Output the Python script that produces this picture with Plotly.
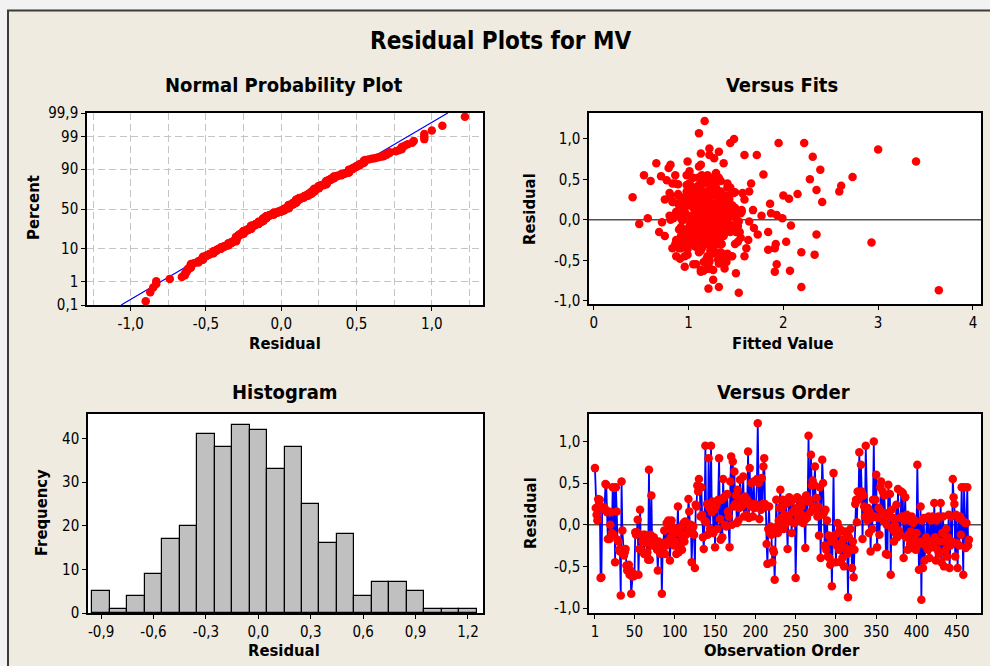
import plotly.graph_objects as go
from statistics import NormalDist, mean, stdev

W, H = 990, 666
FONT = "DejaVu Sans Condensed, DejaVu Sans, sans-serif"

# ---------------- data ----------------
residuals = [
    0.68, 0.20, 0.12, 0.05, 0.31, 0.28, 0.30, -0.64, -0.63, 0.21, 0.19, 0.20, 0.20, 0.49, 0.48, 0.15, -0.17, 0.16, -0.17, 0.00,
    0.15, -0.10, 0.45, -0.12, 0.44, -0.45, 0.45, 0.16, -0.18, -0.20, -0.30, -0.32, -0.85, 0.52, -0.07, -0.30, -0.37, -0.33, -0.29, -0.49,
    -0.55, -0.52, -0.48, -0.60, -0.55, -0.83, -0.62, -0.58, -0.62, -0.60, -0.09, -0.12, -0.09, 0.06, -0.60, -0.29, 0.18, -0.30, -0.13, -0.20,
    -0.12, -0.35, -0.12, -0.15, -0.22, -0.33, -0.42, 0.66, -0.42, -0.12, 0.35, -0.25, -0.17, -0.15, -0.22, -0.20, -0.25, -0.30, -0.55, -0.20,
    -0.25, -0.35, -0.28, -0.83, -0.30, -0.22, -0.07, -0.35, -0.25, 0.02, -0.20, 0.05, -0.05, -0.43, -0.15, 0.05, -0.22, -0.03, -0.25, -0.10,
    -0.20, -0.35, -0.05, 0.22, -0.33, -0.10, -0.25, -0.02, -0.30, -0.15, 0.02, -0.20, 0.04, -0.12, 0.02, -0.08, 0.31, 0.16, -0.05, 0.00,
    -0.45, -0.10, -0.02, -0.12, -0.52, 0.24, 0.22, 0.47, 0.40, 0.55, 0.45, 0.10, 0.45, 0.12, -0.15, -0.29, 0.05, 0.95, 0.03, 0.25,
    -0.12, 0.80, 0.20, -0.05, 0.95, 0.15, 0.28, -0.10, 0.18, -0.27, 0.22, 0.25, -0.05, 0.30, 0.80, 0.07, -0.18, 0.30, -0.15, 0.55,
    0.33, 0.00, 0.35, -0.02, 0.37, 0.16, 0.10, -0.27, 0.52, 0.82, 0.00, 0.76, 0.22, 0.64, 0.25, 0.35, 0.02, 0.42, 0.05, 0.20,
    0.54, 0.28, 0.22, 0.32, 0.58, 0.10, 0.34, 0.25, 0.12, 0.30, 0.88, 0.08, 0.68, 0.22, 0.50, 0.25, 0.10, 0.52, 0.20, 0.25,
    0.22, 0.55, 1.22, 0.50, 0.07, 0.55, 0.18, 0.56, 0.25, 0.70, 0.80, 0.25, 0.22, -0.23, -0.47, -0.05, 0.22, -0.10, -0.02, -0.12,
    -0.45, -0.30, -0.33, -0.66, -0.08, 0.30, -0.02, -0.10, 0.05, 0.20, 0.42, 0.08, 0.20, 0.30, -0.05, 0.12, 0.00, 0.25, 0.05, -0.29,
    0.10, 0.33, 0.05, 0.28, -0.10, 0.15, 0.30, 0.02, 0.18, -0.64, 0.20, 0.33, 0.10, 0.18, 0.30, 0.05, 0.22, 0.12, 0.02, 0.30,
    0.05, -0.28, 0.35, 0.08, 0.28, 1.07, 0.30, 0.15, 0.84, 0.47, 0.53, 0.22, 0.48, 0.70, 0.18, 0.32, 0.10, 0.22, -0.13, 0.45,
    -0.40, 0.12, 0.78, 0.50, 0.14, -0.25, 0.18, -0.30, 0.05, -0.38, -0.13, -0.40, -0.48, -0.20, -0.74, -0.15, 0.62, -0.20, -0.12, -0.45,
    -0.25, 0.02, -0.10, -0.30, -0.05, -0.45, -0.22, -0.40, -0.18, -0.50, -0.08, -0.28, -0.12, -0.35, -0.87, -0.15, -0.30, -0.05, -0.30, -0.52,
    -0.20, -0.63, -0.30, 0.25, 0.30, 0.03, 0.40, 0.30, 0.87, 0.35, 0.72, 0.40, -0.17, 0.35, 0.22, 0.10, 0.95, 0.18, 0.05, 0.20,
    -0.10, 0.15, -0.32, 0.08, -0.05, 0.30, 1.00, 0.10, 0.30, 0.60, -0.27, 0.08, 0.20, -0.12, 0.45, 0.52, 0.15, 0.40, 0.05, 0.35,
    0.14, -0.35, 0.00, -0.36, 0.48, 0.10, 0.37, -0.60, 0.18, -0.05, 0.08, -0.20, 0.00, -0.10, 0.24, -0.15, 0.43, -0.07, 0.08, -0.12,
    0.40, 0.10, 0.38, -0.40, 0.05, 0.33, -0.15, 0.12, -0.30, -0.12, 0.05, -0.23, -0.08, 0.10, -0.28, 0.02, -0.18, 0.05, -0.30, -0.10,
    0.72, -0.24, -0.54, -0.20, 0.22, -0.90, 0.05, -0.52, 0.08, -0.43, -0.25, -0.15, 0.08, -0.30, 0.10, -0.40, -0.20, 0.05, -0.27, 0.10,
    -0.25, 0.26, -0.15, -0.43, 0.05, -0.30, 0.10, -0.35, -0.20, 0.26, -0.45, -0.10, 0.10, -0.50, -0.20, -0.30, -0.05, -0.38, -0.15, 0.12,
    -0.52, -0.25, 0.10, -0.20, 0.55, 0.33, 0.25, -0.38, 0.12, -0.22, -0.52, 0.08, -0.25, 0.10, -0.12, 0.45, 0.05, -0.60, 0.45, 0.02,
    -0.28, 0.02, 0.45, -0.25, -0.18,
]

fitted_values = [
    0.81, 0.99, 1.19, 0.84, 1.29, 1.10, 1.40, 1.91, 2.07, 1.04, 1.25, 1.14, 1.86, 0.77, 1.34, 0.95, 1.07, 1.44, 1.20, 0.81,
    1.28, 1.69, 1.01, 1.37, 0.89, 1.59, 1.16, 1.23, 2.35, 0.75, 1.92, 1.08, 1.21, 1.32, 2.08, 0.98, 1.84, 1.11, 0.87, 1.31,
    1.93, 1.17, 0.91, 1.22, 1.05, 2.19, 1.13, 0.96, 1.26, 1.38, 0.92, 1.14, 1.49, 1.93, 1.20, 1.02, 1.35, 0.86, 1.10, 1.22,
    1.07, 1.91, 1.29, 0.69, 1.19, 0.99, 1.41, 1.11, 1.25, 0.90, 1.64, 1.16, 1.32, 1.04, 1.55, 1.13, 0.93, 1.28, 1.08, 1.37,
    1.17, 0.83, 1.23, 1.32, 1.01, 1.20, 1.46, 1.10, 0.96, 1.31, 1.14, 0.80, 0.48, 2.33, 1.05, 1.22, 1.34, 0.72, 1.13, 1.02,
    1.26, 0.92, 1.19, 1.38, 1.07, 1.29, 0.87, 1.64, 1.16, 1.50, 1.99, 0.99, 1.23, 1.11, 0.57, 1.32, 1.04, 1.20, 1.43, 0.95,
    0.87, 1.13, 1.25, 1.05, 1.37, 1.17, 0.84, 1.28, 1.08, 0.53, 1.22, 1.47, 1.01, 1.14, 1.34, 0.93, 1.20, 1.44, 1.10, 1.31,
    0.98, 1.59, 1.19, 1.41, 1.95, 1.07, 0.41, 1.26, 0.90, 2.03, 1.16, 1.35, 1.02, 2.00, 1.72, 1.23, 1.11, 0.81, 1.44, 1.14,
    1.32, 1.04, 2.59, 1.20, 2.35, 0.95, 1.28, 1.52, 1.10, 1.13, 1.37, 1.27, 0.99, 0.79, 1.17, 1.46, 1.25, 2.61, 1.05, 1.13,
    0.71, 1.22, 1.38, 0.89, 1.29, 1.08, 1.49, 0.75, 1.16, 1.01, 1.22, 1.34, 1.13, 0.92, 2.28, 1.20, 1.41, 1.05, 1.26, 1.59,
    1.11, 0.98, 1.17, 1.31, 1.07, 0.86, 1.23, 1.79, 1.14, 0.66, 1.22, 1.43, 1.02, 1.19, 1.35, 1.10, 0.83, 1.28, 1.53, 1.16,
    0.96, 1.32, 1.13, 1.50, 1.23, 1.05, 1.40, 1.19, 0.90, 1.29, 1.10, 1.47, 1.01, 1.22, 1.14, 1.56, 0.93, 1.34, 1.77, 1.08,
    1.20, 0.80, 1.28, 1.04, 1.37, 1.16, 0.99, 1.25, 1.44, 1.13, 1.07, 1.32, 0.87, 1.19, 1.13, 1.38, 0.95, 1.23, 1.50, 1.02,
    1.14, 2.93, 1.31, 1.10, 0.92, 1.11, 1.26, 1.43, 1.32, 1.17, 2.73, 1.05, 1.22, 1.37, 0.98, 2.15, 1.34, 1.11, 1.20, 0.86,
    1.29, 1.07, 2.31, 1.16, 1.35, 1.63, 1.01, 1.23, 1.41, 1.13, 0.93, 2.19, 1.19, 1.32, 1.26, 1.04, 2.39, 1.25, 1.10, 1.46,
    1.17, 0.84, 1.28, 1.08, 1.37, 1.20, 0.99, 1.34, 1.13, 1.22, 1.52, 0.96, 1.26, 1.14, 3.64, 1.84, 1.05, 1.31, 1.19, 1.40,
    1.02, 1.16, 1.35, 1.10, 0.89, 1.25, 1.44, 1.07, 3.00, 1.19, 0.99, 1.29, 1.13, 0.98, 1.38, 1.22, 2.22, 1.11, 1.32, 1.04,
    1.23, 1.49, 1.14, 0.95, 1.28, 1.08, 1.48, 1.20, 1.37, 1.01, 1.17, 1.87, 1.31, 1.11, 0.83, 1.25, 1.05, 1.41, 1.16, 1.34,
    1.10, 1.61, 1.22, 0.99, 0.60, 1.32, 1.13, 1.20, 1.46, 1.05, 1.26, 0.92, 1.17, 1.38, 1.08, 1.29, 0.98, 1.19, 1.55, 1.14,
    1.04, 1.35, 1.23, 1.11, 0.87, 1.57, 1.54, 1.16, 1.31, 1.07, 1.43, 1.20, 1.01, 1.56, 1.25, 1.13, 1.37, 0.93, 1.19, 1.28,
    3.40, 1.10, 1.32, 1.14, 2.41, 1.53, 1.05, 1.22, 1.41, 0.99, 1.19, 1.29, 1.08, 1.49, 0.96, 1.25, 1.16, 1.35, 1.04, 1.20,
    1.28, 2.06, 1.11, 1.38, 1.02, 1.22, 1.17, 0.90, 1.31, 1.13, 1.44, 1.07, 1.26, 1.19, 0.95, 1.34, 1.14, 1.23, 1.05, 1.40,
    1.16, 0.98, 1.29, 1.10, 1.20, 1.47, 1.04, 1.25, 1.68, 1.13, 1.35, 0.93, 1.19, 1.28, 1.08, 1.41, 0.86, 1.22, 1.14, 1.32,
    1.07, 1.26, 1.66, 1.01, 1.73,
]

hist_bin_centers = [-0.9, -0.8, -0.7, -0.6, -0.5, -0.4, -0.3, -0.2, -0.1, 0.0, 0.1,
                    0.2, 0.3, 0.4, 0.5, 0.6, 0.7, 0.8, 0.9, 1.0, 1.1, 1.2]
hist_counts = [5, 1, 4, 9, 17, 20, 41, 38, 43, 42, 33,
               38, 25, 16, 18, 4, 7, 7, 5, 1, 1, 1]

percent_ticks = [0.1, 1, 10, 50, 90, 99, 99.9]
percent_labels = ["0,1", "1", "10", "50", "90", "99", "99,9"]
npp_x_ticks = [-1.0, -0.5, 0.0, 0.5, 1.0]
npp_x_labels = ["-1,0", "-0,5", "0,0", "0,5", "1,0"]
npp_x_minor = [-1.25, -0.75, -0.25, 0.25, 0.75, 1.25]
res_ticks = [-1.0, -0.5, 0.0, 0.5, 1.0]
res_labels = ["-1,0", "-0,5", "0,0", "0,5", "1,0"]
fit_ticks = [0, 1, 2, 3, 4]
hist_x_ticks = [-0.9, -0.6, -0.3, 0.0, 0.3, 0.6, 0.9, 1.2]
hist_x_labels = ["-0,9", "-0,6", "-0,3", "0,0", "0,3", "0,6", "0,9", "1,2"]
hist_y_ticks = [0, 10, 20, 30, 40]
order_ticks = [1, 50, 100, 150, 200, 250, 300, 350, 400, 450]

# ---------------- derived ----------------
n_pairs = min(len(residuals), len(fitted_values))
observation = list(range(1, len(residuals) + 1))
nd = NormalDist()
sorted_res = sorted(residuals)
n = len(sorted_res)
npp_z = [nd.inv_cdf((i + 1 - 0.3) / (n + 0.4)) for i in range(n)]
mu, sd = mean(residuals), stdev(residuals)
z_lo, z_hi = nd.inv_cdf(0.001), nd.inv_cdf(0.999)
line_z = [z_lo, z_hi]
line_x = [mu + sd * z for z in line_z]
percent_z = [nd.inv_cdf(p / 100.0) for p in percent_ticks]


def fx(px):
    return px / W


def fy(px):
    return 1 - px / H


RED = "#FF0000"
BLUE = "#0000FF"
GRIDC = "#C4C4C4"
MSIZE = 8.5
tickfont = dict(family=FONT, size=15, color="#000000")
axis_common = dict(showline=True, linecolor="#000000", linewidth=1.5, mirror=True,
                   ticks="outside", ticklen=4, tickwidth=1, tickcolor="#000000",
                   tickfont=tickfont, zeroline=False, showgrid=False, automargin=False)

fig = go.Figure()

# Normal probability plot
fig.add_trace(go.Scatter(x=line_x, y=line_z, mode="lines", line=dict(color=BLUE, width=1.2),
                         xaxis="x", yaxis="y", showlegend=False, hoverinfo="skip"))
fig.add_trace(go.Scatter(x=sorted_res, y=npp_z, mode="markers",
                         marker=dict(color=RED, size=MSIZE), xaxis="x", yaxis="y", showlegend=False))

# Versus fits
fig.add_trace(go.Scatter(x=fitted_values[:n_pairs], y=residuals[:n_pairs], mode="markers",
                         marker=dict(color=RED, size=MSIZE), xaxis="x2", yaxis="y2", showlegend=False))

# Histogram
fig.add_trace(go.Bar(x=hist_bin_centers, y=hist_counts, width=0.1,
                     marker=dict(color="#C0C0C0", line=dict(color="#000000", width=1.2)),
                     xaxis="x3", yaxis="y3", showlegend=False))

# Versus order
fig.add_trace(go.Scatter(x=observation, y=residuals, mode="lines+markers",
                         line=dict(color=BLUE, width=1.8),
                         marker=dict(color=RED, size=MSIZE), xaxis="x4", yaxis="y4", showlegend=False))

fig.update_layout(
    template="none",
    width=W, height=H, margin=dict(l=0, r=0, t=0, b=0, pad=0),
    paper_bgcolor="#EFEBE1", plot_bgcolor="#FFFFFF",
    font=dict(family=FONT, color="#000000"),
    bargap=0,
    xaxis=dict(axis_common, domain=[fx(87), fx(483)], range=[-1.29, 1.34],
               tickvals=npp_x_ticks, ticktext=npp_x_labels, anchor="y",
               showgrid=True, gridcolor=GRIDC, gridwidth=1, griddash="7px,4px",
               minor=dict(tickvals=npp_x_minor, ticklen=0,
                          showgrid=True, gridcolor=GRIDC, gridwidth=1, griddash="7px,4px")),
    yaxis=dict(axis_common, domain=[fy(305), fy(113)], range=[z_lo, z_hi],
               tickvals=percent_z, ticktext=percent_labels, anchor="x",
               showgrid=True, gridcolor=GRIDC, gridwidth=1, griddash="7px,4px"),
    xaxis2=dict(axis_common, domain=[fx(589), fx(981)], range=[-0.05, 4.085],
                tickvals=fit_ticks, ticktext=[str(t) for t in fit_ticks], anchor="y2"),
    yaxis2=dict(axis_common, domain=[fy(304), fy(113)], range=[-1.04, 1.32],
                tickvals=res_ticks, ticktext=res_labels, anchor="x2"),
    xaxis3=dict(axis_common, domain=[fx(88), fx(483)], range=[-0.975, 1.286],
                tickvals=hist_x_ticks, ticktext=hist_x_labels, anchor="y3"),
    yaxis3=dict(axis_common, domain=[fy(613), fy(414)], range=[0, 45.6],
                tickvals=hist_y_ticks, ticktext=[str(t) for t in hist_y_ticks], anchor="x3"),
    xaxis4=dict(axis_common, domain=[fx(589), fx(981)], range=[-6.4, 480],
                tickvals=order_ticks, ticktext=[str(t) for t in order_ticks], anchor="y4"),
    yaxis4=dict(axis_common, domain=[fy(613), fy(414)], range=[-1.06, 1.33],
                tickvals=res_ticks, ticktext=res_labels, anchor="x4"),
)

# zero reference lines
for xr, yr in (("x2", "y2"), ("x4", "y4")):
    fig.add_shape(type="line", xref=f"{xr} domain", yref=yr, x0=0, x1=1, y0=0, y1=0,
                  line=dict(color="#505050", width=1.5), layer="below")

# outer light strip and window frame
fig.add_shape(type="rect", xref="paper", yref="paper", x0=0, x1=1, y0=fy(9), y1=1,
              fillcolor="#F2F2F2", line=dict(width=0), layer="below")
fig.add_shape(type="rect", xref="paper", yref="paper", x0=0, x1=fx(7), y0=0, y1=1,
              fillcolor="#F2F2F2", line=dict(width=0), layer="below")
fig.add_shape(type="line", xref="paper", yref="paper", x0=fx(8), x1=fx(8), y0=0, y1=fy(10),
              line=dict(color="#3C3C3C", width=2))
fig.add_shape(type="line", xref="paper", yref="paper", x0=fx(7), x1=1, y0=fy(10.5), y1=fy(10.5),
              line=dict(color="#3C3C3C", width=2))


# titles
def ann(text, x, y, size, angle=0):
    fig.add_annotation(text=f"<b>{text}</b>", x=fx(x), y=fy(y), xref="paper", yref="paper",
                       showarrow=False, xanchor="center", yanchor="middle", textangle=angle,
                       font=dict(family=FONT, size=size, color="#000000"))


ann("Residual Plots for MV", 500, 41, 24)
ann("Normal Probability Plot", 284, 85, 20)
ann("Versus Fits", 782, 85, 20)
ann("Histogram", 285, 392, 20)
ann("Versus Order", 783, 392, 20)
ann("Residual", 285, 343, 16.5)
ann("Fitted Value", 783, 343, 16.5)
ann("Residual", 284, 650, 16.5)
ann("Observation Order", 782, 650, 16.5)
ann("Percent", 33, 208, 16.5, -90)
ann("Residual", 530, 209, 16.5, -90)
ann("Frequency", 41, 513, 16.5, -90)
ann("Residual", 530, 513, 16.5, -90)

fig.write_html("out.html")
